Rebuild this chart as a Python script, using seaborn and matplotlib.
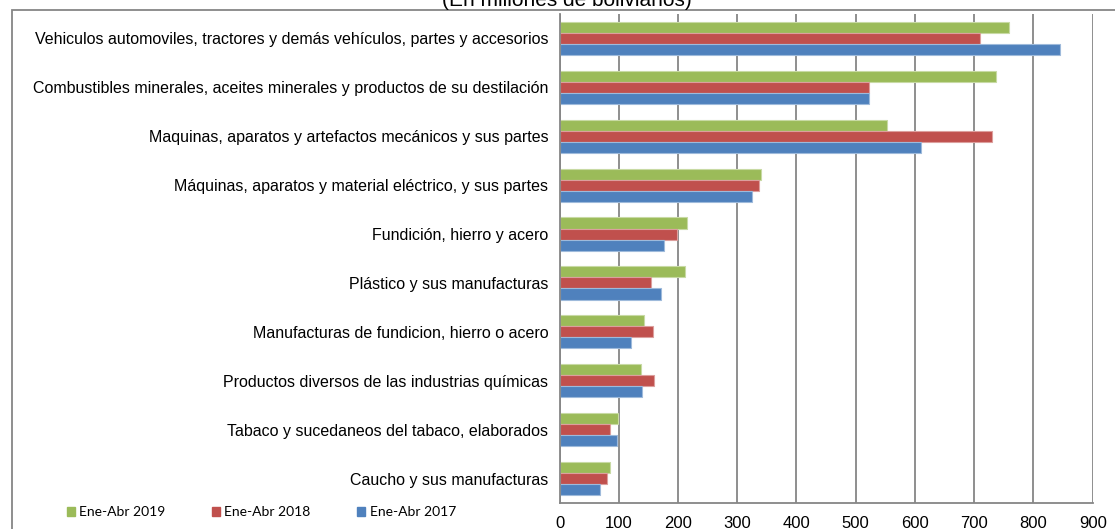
import matplotlib
matplotlib.use("Agg")
import matplotlib.pyplot as plt
import matplotlib.colors as mcolors
from matplotlib.patches import Rectangle, Patch
import seaborn as sns
import pandas as pd

categories = [
    "Vehiculos automoviles, tractores y demás vehículos, partes y accesorios",
    "Combustibles minerales, aceites minerales y productos de su destilación",
    "Maquinas, aparatos y artefactos mecánicos y sus partes",
    "Máquinas, aparatos y material eléctrico, y sus partes",
    "Fundición, hierro y acero",
    "Plástico y sus manufacturas",
    "Manufacturas de fundicion, hierro o acero",
    "Productos diversos de las industrias químicas",
    "Tabaco y sucedaneos del tabaco, elaborados",
    "Caucho y sus manufacturas",
]
series = ["Ene-Abr 2019", "Ene-Abr 2018", "Ene-Abr 2017"]
v2019 = [759, 736, 553, 340, 216, 212, 143, 137, 99, 86]
v2018 = [709, 522, 730, 337, 198, 154, 157, 160, 85, 81]
v2017 = [845, 522, 611, 325, 177, 172, 120, 139, 97, 68]
colors = ["#9BBB59", "#C0504D", "#4F81BD"]
xticks = [0, 100, 200, 300, 400, 500, 600, 700, 800, 900]
title = "(En millones de bolivianos)"

rows = []
for s, vals in zip(series, [v2019, v2018, v2017]):
    for c, v in zip(categories, vals):
        rows.append({"cat": c, "serie": s, "valor": v})
df = pd.DataFrame(rows)

sns.set_theme(style="white")
plt.rcParams["font.family"] = ["Liberation Sans", "DejaVu Sans"]
plt.rcParams["text.color"] = "black"
plt.rcParams["xtick.labelcolor"] = "black"
plt.rcParams["ytick.labelcolor"] = "black"

W, H = 1115, 529
fig = plt.figure(figsize=(W / 100, H / 100), dpi=100)
ax = fig.add_axes([559.5 / W, 1 - 503 / H, (1092.7 - 559.5) / W, (503 - 14) / H])

sns.barplot(data=df, y="cat", x="valor", hue="serie", hue_order=series,
            order=categories, palette=colors, orient="h", width=0.68,
            ax=ax, legend=False, saturation=1)

for p in ax.patches:
    fc = mcolors.to_rgb(p.get_facecolor())
    light = tuple(min(1, c + (1 - c) * 0.45) for c in fc)
    p.set_edgecolor(light)
    p.set_linewidth(0.8)

ax.set_xlim(0, 900)
ax.set_ylim(len(categories) - 0.5, -0.5)
ax.set_xticks(xticks)
ax.set_xticklabels([str(t) for t in xticks], fontsize=12)
ax.set_xlabel("")
ax.set_ylabel("")
ax.tick_params(axis="y", labelsize=11.5, pad=8, length=0, labelcolor="black")
ax.tick_params(axis="x", pad=5, length=4, width=1.3, color="#868686",
               direction="out", labelcolor="black")
ax.set_yticks(range(len(categories)))
ax.set_yticklabels(categories)
# boundary ticks on y axis
ax.set_yticks([i - 0.5 for i in range(len(categories) + 1)], minor=True)
ax.tick_params(axis="y", which="minor", length=4, width=1.3, color="#868686", direction="out")

ax.grid(axis="x", color="#868686", linewidth=1.3)
ax.set_axisbelow(True)
for side in ["top", "right"]:
    ax.spines[side].set_visible(False)
for side in ["left", "bottom"]:
    ax.spines[side].set_color("#868686")
    ax.spines[side].set_linewidth(1.3)

handles = [Patch(facecolor=c, edgecolor=c) for c in colors]
fig.legend(handles, series, loc="center left", bbox_to_anchor=(54 / W, 1 - 512 / H),
           ncol=3, frameon=False, handlelength=0.6, handleheight=0.6,
           handletextpad=0.3, columnspacing=3.35,
           prop={"family": ["Lato", "DejaVu Sans"], "size": 10})

fig.text(567 / W, 1 - 6.5 / H, title, ha="center", va="baseline", fontsize=15)

border = Rectangle((12 / W, -0.1), 1.2, 1 - 10 / H + 0.1, transform=fig.transFigure,
                   fill=False, edgecolor="#868686", linewidth=1.3)
fig.add_artist(border)

fig.savefig("out.png", dpi=100)
